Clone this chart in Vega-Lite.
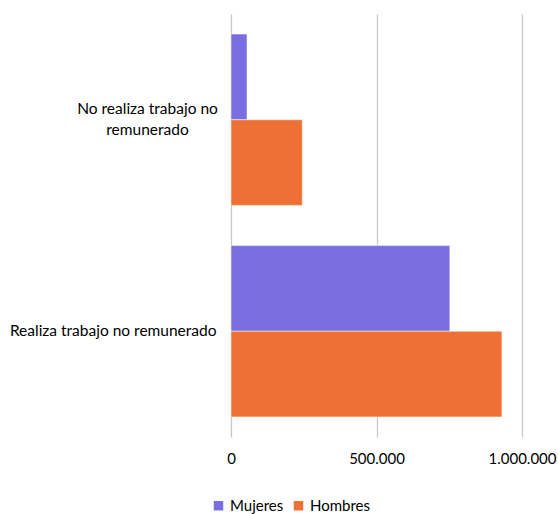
{
  "$schema": "https://vega.github.io/schema/vega-lite/v6.json",
  "autosize": "none",
  "width": 291,
  "height": 423,
  "padding": {"left": 231, "top": 14, "right": 36, "bottom": 77},
  "background": "white",
  "config": {
    "locale": {"number": {"decimal": ",", "thousands": ".", "grouping": [3], "currency": ["", " €"]}},
    "view": {"stroke": null},
    "font": "Lato"
  },
  "data": {
    "values": [
      {"categoria": "No realiza trabajo no remunerado", "sexo": "Mujeres", "valor": 55000},
      {"categoria": "No realiza trabajo no remunerado", "sexo": "Hombres", "valor": 245000},
      {"categoria": "Realiza trabajo no remunerado", "sexo": "Mujeres", "valor": 752000},
      {"categoria": "Realiza trabajo no remunerado", "sexo": "Hombres", "valor": 931000}
    ]
  },
  "mark": {"type": "bar", "stroke": "white", "strokeWidth": 0.5},
  "encoding": {
    "y": {
      "field": "categoria",
      "type": "nominal",
      "sort": ["No realiza trabajo no remunerado", "Realiza trabajo no remunerado"],
      "scale": {"paddingInner": 0.19, "paddingOuter": 0.095},
      "axis": {
        "title": null,
        "domain": false,
        "ticks": false,
        "grid": false,
        "labelFontSize": 15.5,
        "labelColor": "#000000",
        "labelLimit": 300,
        "labelLineHeight": 21,
        "labelExpr": "datum.value == 'No realiza trabajo no remunerado' ? ['No realiza trabajo no', 'remunerado'] : datum.value",
        "labelAlign": {"condition": {"test": "datum.value == 'No realiza trabajo no remunerado'", "value": "center"}, "value": "right"},
        "labelPadding": {"condition": {"test": "datum.value == 'No realiza trabajo no remunerado'", "value": 84}, "value": 15},
        "labelOffset": {"condition": {"test": "datum.value == 'No realiza trabajo no remunerado'", "value": -11}, "value": 0}
      }
    },
    "yOffset": {"field": "sexo", "type": "nominal", "sort": ["Mujeres", "Hombres"]},
    "x": {
      "field": "valor",
      "type": "quantitative",
      "scale": {"domain": [0, 1000000], "nice": false},
      "axis": {
        "title": null,
        "domain": false,
        "ticks": false,
        "values": [0, 500000, 1000000],
        "format": ",d",
        "grid": true,
        "gridColor": "#C8C8C8",
        "gridWidth": 1.3,
        "labelFontSize": 15,
        "labelColor": "#000000",
        "labelPadding": 14,
        "labelFlush": false
      }
    },
    "color": {
      "field": "sexo",
      "type": "nominal",
      "sort": ["Mujeres", "Hombres"],
      "scale": {"domain": ["Mujeres", "Hombres"], "range": ["#7A6DE1", "#EF7034"]},
      "legend": {
        "title": null,
        "orient": "none",
        "direction": "horizontal",
        "legendX": -20,
        "legendY": 484,
        "symbolType": "square",
        "symbolSize": 90,
        "symbolStrokeWidth": 0,
        "labelFontSize": 15,
        "labelColor": "#000000",
        "columnPadding": 7,
        "labelOffset": 4
      }
    }
  }
}
